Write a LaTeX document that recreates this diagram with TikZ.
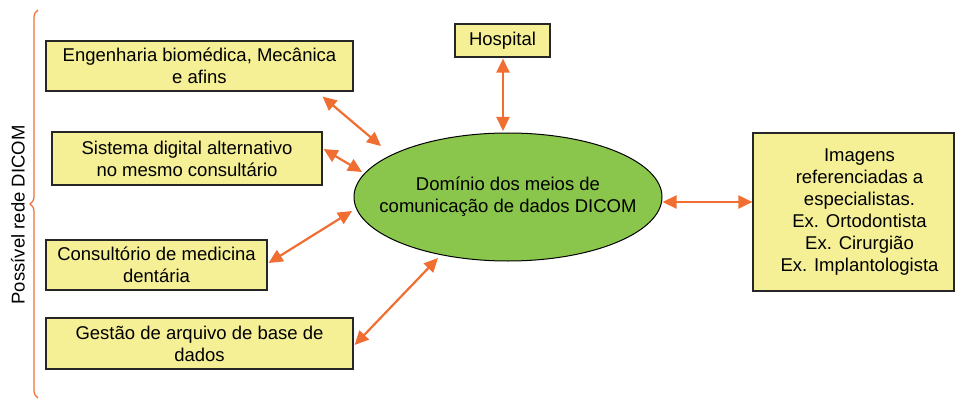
\documentclass[tikz,border=0pt]{standalone}
\usepackage{fontspec}
\setmainfont{Liberation Sans}
\usetikzlibrary{arrows.meta,shapes.geometric,decorations.pathreplacing}
\definecolor{boxyellow}{RGB}{245,240,150}
\definecolor{linkorange}{RGB}{240,110,50}
\definecolor{domgreen}{RGB}{139,198,76}

\begin{document}
\begin{tikzpicture}[x=1pt, y=-1pt,
  every node/.style = {font=\fontsize{18.5}{22}\selectfont, align=center},
  box/.style = {rectangle, draw=black!85, line width=1.2pt, fill=boxyellow, inner sep=0pt},
  link/.style = {linkorange, line width=2.2pt,
    {Triangle[length=14pt,width=13pt]}-{Triangle[length=14pt,width=13pt]}}]
  \useasboundingbox (0,0) rectangle (955,401);
  % boxes round the domain
  \node[box, minimum width=307pt, minimum height=50pt] (eng) at (199.5,66)
    {Engenharia biomédica, Mecânica\\ e afins};
  \node[box, minimum width=270pt, minimum height=53pt] (sis) at (187,158.5)
    {Sistema digital alternativo\\ no mesmo consultário};
  \node[box, minimum width=221pt, minimum height=50pt] (cons) at (156.5,265)
    {Consultório de medicina\\ dentária};
  \node[box, minimum width=307pt, minimum height=51pt] (gest) at (199.5,343.5)
    {Gestão de arquivo de base de\\ dados};
  \node[box, minimum width=95pt, minimum height=33pt] (hosp) at (502.5,40.5) {Hospital};
  \node[box, minimum width=201pt, minimum height=158pt] (img) at (853.5,212)
    {\hspace*{12pt}Imagens\\ \hspace*{12pt}referenciadas a\\ \hspace*{12pt}especialistas.\\
     \hspace*{12pt}Ex. Ortodontista\\ \hspace*{12pt}Ex. Cirurgião\\ \hspace*{12pt}Ex. Implantologista};
  % the domain
  \node[ellipse, draw, line width=1pt, fill=domgreen, minimum width=308pt,
    minimum height=128pt, inner sep=0pt] (dom) at (508,197) {};
  \node (domtext) at (dom.center) {Domínio dos meios de\\ comunicação de dados DICOM};
  % network brace
  \draw[linkorange, line width=1.2pt, decorate, decoration={brace, amplitude=8pt}]
    (38,398) -- (38,10);
  \node[rotate=90] (net) at (18,215) {Possível rede DICOM};
  % links
  \draw[link] ([shift={(-31,5)}]eng.south east) -- ([shift={(-127,-51)}]dom.center);
  \draw[link] ([shift={(1,-9.5)}]sis.east) -- ([shift={(-146,-25)}]dom.center);
  \draw[link] ([shift={(1,-2)}]cons.east) -- ([shift={(-156,14)}]dom.center);
  \draw[link] ([shift={(1,1.5)}]gest.east) -- ([shift={(-70,61)}]dom.center);
  \draw[link] ([shift={(0.5,1)}]hosp.south) -- ([shift={(-5,-66)}]dom.center);
  \draw[link] ([shift={(0,5)}]dom.east) -- ([shift={(0,-10)}]img.west);
\end{tikzpicture}
\end{document}
